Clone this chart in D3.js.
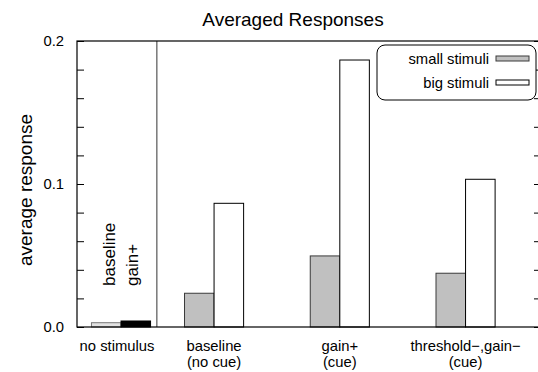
<!DOCTYPE html>
<html>
<head>
<meta charset="utf-8">
<script src="https://cdn.jsdelivr.net/npm/d3@7"></script>
<style>
  html, body { margin: 0; padding: 0; background: #fff; }
  svg { display: block; font-family: "Liberation Sans", Arial, Helvetica, sans-serif; }
</style>
</head>
<body>
<svg id="chart" width="538" height="372"></svg>
<script>
// Group labels (two lines each for the cued conditions)
const noStimLabel = "no stimulus";
const cueGroups = [
  ["baseline", "(no cue)"],
  ["gain+", "(cue)"],
  ["threshold\u2212,gain\u2212", "(cue)"]
];
// Positions of the groups on the x axis
const noStimPos = 0.26;
const cuePositions = [1, 2, 3];
const separatorPos = 0.545;

// Average responses
const smallStimuli = [0.0236, 0.0497, 0.0376];
const bigStimuli = [0.0865, 0.1867, 0.1033];
const noStimNames = ["baseline", "gain+"];
const noStimValues = [0.0030, 0.0042];

const yTicks = d3.range(0, 0.2001, 0.02);
const yLabelTicks = [0, 0.1, 0.2];

const svg = d3.select("#chart");
const plotLeft = 77, plotRight = 541, plotTop = 41, plotBottom = 327;
const barW = 0.235;

const x = d3.scaleLinear().domain([-0.09, 3.6]).range([plotLeft, plotRight]);
const y = d3.scaleLinear().domain([0, 0.2]).range([plotBottom, plotTop]);

// Title
svg.append("text")
  .attr("x", 293).attr("y", 26)
  .attr("text-anchor", "middle")
  .attr("font-size", 19)
  .text("Averaged Responses");

// Y axis title
svg.append("text")
  .attr("transform", "translate(32,190) rotate(-90)")
  .attr("text-anchor", "middle")
  .attr("font-size", 19)
  .text("average response");

// Left axis with inward ticks
const fmt = d3.format(".1f");
const yAxisL = svg.append("g")
  .attr("transform", `translate(${plotLeft},0)`)
  .call(d3.axisLeft(y).tickValues(yTicks).tickSize(-7).tickPadding(13)
    .tickFormat(d => yLabelTicks.some(t => Math.abs(t - d) < 1e-9) ? fmt(d) : ""));
yAxisL.select(".domain").remove();
yAxisL.selectAll("text").attr("font-size", 14.8).attr("font-family", null).attr("fill", "#000");
yAxisL.selectAll("line").attr("stroke", "#000");

// Right axis ticks
const yAxisR = svg.append("g")
  .attr("transform", `translate(${plotRight},0)`)
  .call(d3.axisRight(y).tickValues(yTicks).tickSize(-7).tickFormat(""));
yAxisR.select(".domain").remove();
yAxisR.selectAll("line").attr("stroke", "#000");

// Separator between the no-stimulus case and the cued groups
svg.append("line")
  .attr("x1", x(separatorPos)).attr("x2", x(separatorPos))
  .attr("y1", plotTop).attr("y2", plotBottom)
  .attr("stroke", "#555").attr("stroke-width", 1.2);

// No-stimulus bars
const noStimFill = ["#e2e2e2", "#000"];
const noStimStroke = ["#777", "#000"];
svg.append("g").selectAll("rect")
  .data(noStimValues)
  .join("rect")
  .attr("x", (d, i) => x(noStimPos + (i - 1) * barW))
  .attr("width", x(barW) - x(0))
  .attr("y", d => y(d))
  .attr("height", d => y(0) - y(d))
  .attr("fill", (d, i) => noStimFill[i])
  .attr("stroke", (d, i) => noStimStroke[i])
  .attr("stroke-width", 1);

// Rotated labels for the no-stimulus bars
svg.append("g").selectAll("text")
  .data(noStimNames)
  .join("text")
  .attr("transform", (d, i) => `translate(${x(noStimPos) - 6 + i * 23},286) rotate(-90)`)
  .attr("font-size", 17)
  .text(d => d);

// Small stimuli bars
svg.append("g").selectAll("rect")
  .data(smallStimuli)
  .join("rect")
  .attr("x", (d, i) => x(cuePositions[i] - barW))
  .attr("width", x(barW) - x(0))
  .attr("y", d => y(d))
  .attr("height", d => y(0) - y(d))
  .attr("fill", "#c0c0c0")
  .attr("stroke", "#3a3a3a")
  .attr("stroke-width", 1);

// Big stimuli bars
svg.append("g").selectAll("rect")
  .data(bigStimuli)
  .join("rect")
  .attr("x", (d, i) => x(cuePositions[i]))
  .attr("width", x(barW) - x(0))
  .attr("y", d => y(d))
  .attr("height", d => y(0) - y(d))
  .attr("fill", "#fff")
  .attr("stroke", "#000")
  .attr("stroke-width", 1);

// Frame
svg.append("rect")
  .attr("x", plotLeft).attr("y", plotTop)
  .attr("width", plotRight - plotLeft).attr("height", plotBottom - plotTop)
  .attr("fill", "none").attr("stroke", "#000").attr("stroke-width", 1.2);

// X category labels
svg.append("text")
  .attr("x", x(noStimPos) - 4).attr("y", 351)
  .attr("text-anchor", "middle")
  .attr("font-size", 14.8)
  .text(noStimLabel);

const groupLabels = svg.append("g").selectAll("text")
  .data(cueGroups)
  .join("text")
  .attr("x", (d, i) => x(cuePositions[i]))
  .attr("y", 351)
  .attr("text-anchor", "middle")
  .attr("font-size", 14.8);
groupLabels.each(function(d) {
  const t = d3.select(this);
  d.forEach((line, j) => {
    t.append("tspan")
      .attr("x", t.attr("x"))
      .attr("dy", j === 0 ? 0 : 16)
      .text(line);
  });
});

// Legend
const legend = svg.append("g");
legend.append("rect")
  .attr("x", 377).attr("y", 45)
  .attr("width", 159).attr("height", 55)
  .attr("rx", 8).attr("ry", 8)
  .attr("fill", "#fff").attr("stroke", "#000").attr("stroke-width", 1);
const legendItems = [
  { name: "small stimuli", fill: "#c0c0c0", stroke: "#3a3a3a" },
  { name: "big stimuli", fill: "#fff", stroke: "#000" }
];
legendItems.forEach((it, i) => {
  const cy = 58.5 + i * 24;
  legend.append("text")
    .attr("x", 489).attr("y", cy)
    .attr("dy", "0.35em")
    .attr("text-anchor", "end")
    .attr("font-size", 14.8)
    .text(it.name);
  legend.append("rect")
    .attr("x", 496).attr("y", cy - 2.5)
    .attr("width", 33).attr("height", 5)
    .attr("fill", it.fill).attr("stroke", it.stroke).attr("stroke-width", 1);
});
</script>
</body>
</html>
